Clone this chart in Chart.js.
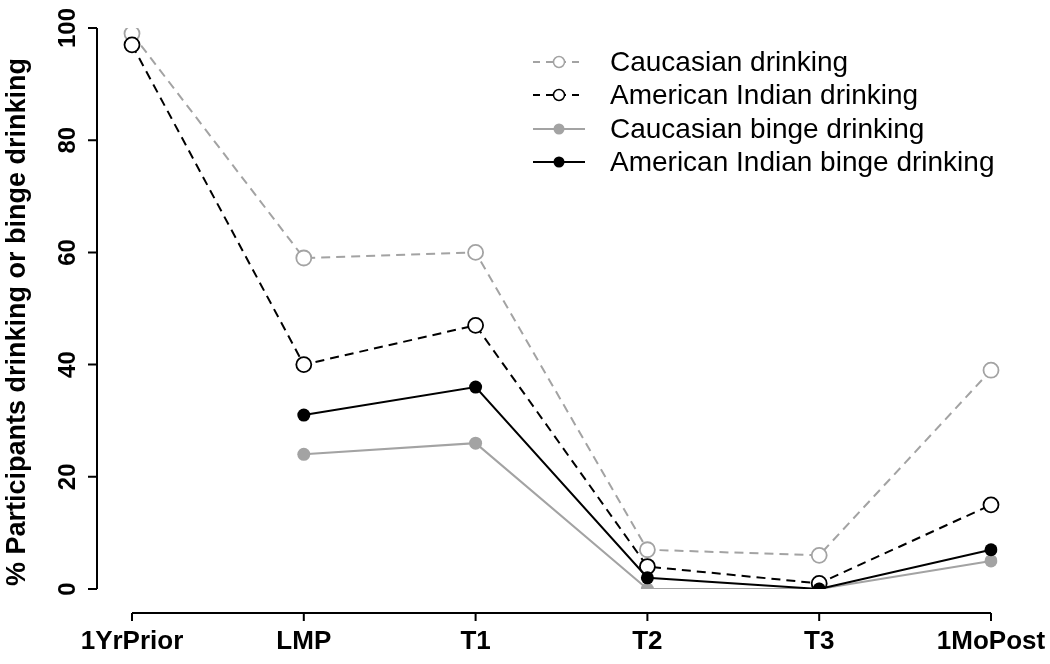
<!DOCTYPE html>
<html>
<head>
<meta charset="utf-8">
<script src="https://cdn.jsdelivr.net/npm/chart.js@4.4.1/dist/chart.umd.min.js"></script>
<style>
  html, body { margin: 0; padding: 0; background: #fff; }
  #wrap { width: 1050px; height: 664px; }
</style>
</head>
<body>
<div id="wrap"><canvas id="drinkChart"></canvas></div>
<script>
// time points
const timepoints = ['1YrPrior', 'LMP', 'T1', 'T2', 'T3', '1MoPost'];
const yTicks = [0, 20, 40, 60, 80, 100];

// % participants
const caucasianDrinking = [99, 59, 60, 7, 6, 39];
const indianDrinking = [97, 40, 47, 4, 1, 15];
const caucasianBinge = [null, 24, 26, 0, 0, 5];
const indianBinge = [null, 31, 36, 2, 0, 7];

const GREY = '#a3a3a3';
const BLACK = '#000000';

const series = [
  { label: 'Caucasian drinking', data: caucasianDrinking, color: GREY, dash: [9, 6], open: true },
  { label: 'American Indian drinking', data: indianDrinking, color: BLACK, dash: [9, 6], open: true },
  { label: 'Caucasian binge drinking', data: caucasianBinge, color: GREY, dash: [], open: false },
  { label: 'American Indian binge drinking', data: indianBinge, color: BLACK, dash: [], open: false }
];

// R-style detached axes, rotated tick labels and the legend
const rAxes = {
  id: 'rAxes',
  afterDraw(chart) {
    const ctx = chart.ctx;
    const xs = chart.scales.x, ys = chart.scales.y;
    ctx.save();
    ctx.strokeStyle = '#000';
    ctx.fillStyle = '#000';
    ctx.lineWidth = 2;

    // y axis
    const yAxisX = 97;
    ctx.beginPath();
    ctx.moveTo(yAxisX, ys.getPixelForValue(0));
    ctx.lineTo(yAxisX, ys.getPixelForValue(100));
    yTicks.forEach(t => {
      const py = ys.getPixelForValue(t);
      ctx.moveTo(yAxisX, py);
      ctx.lineTo(yAxisX - 9, py);
    });
    ctx.stroke();
    ctx.font = 'bold 24px "Liberation Sans", Arial, sans-serif';
    ctx.textAlign = 'center';
    ctx.textBaseline = 'middle';
    yTicks.forEach(t => {
      const py = ys.getPixelForValue(t);
      ctx.save();
      ctx.translate(68, py);
      ctx.rotate(-Math.PI / 2);
      ctx.fillText(String(t), 0, 0);
      ctx.restore();
    });

    // y title
    ctx.save();
    ctx.translate(18, 322);
    ctx.rotate(-Math.PI / 2);
    ctx.font = 'bold 27px "Liberation Sans", Arial, sans-serif';
    ctx.fillText('% Participants drinking or binge drinking', 0, 0);
    ctx.restore();

    // x axis
    const xAxisY = 613;
    ctx.beginPath();
    ctx.moveTo(xs.getPixelForValue(0), xAxisY);
    ctx.lineTo(xs.getPixelForValue(timepoints.length - 1), xAxisY);
    timepoints.forEach((_, i) => {
      const px = xs.getPixelForValue(i);
      ctx.moveTo(px, xAxisY);
      ctx.lineTo(px, xAxisY + 8);
    });
    ctx.stroke();
    ctx.font = 'bold 26px "Liberation Sans", Arial, sans-serif';
    timepoints.forEach((lab, i) => {
      ctx.fillText(lab, xs.getPixelForValue(i), 642);
    });

    // legend
    ctx.font = '28px "Liberation Sans", Arial, sans-serif';
    ctx.textAlign = 'left';
    const rowY = [62, 95, 129, 162];
    series.forEach((s, i) => {
      const y = rowY[i];
      ctx.strokeStyle = s.color;
      ctx.lineWidth = 2.2;
      ctx.setLineDash(s.dash.length ? [7, 6] : []);
      ctx.beginPath();
      ctx.moveTo(533, y);
      ctx.lineTo(585, y);
      ctx.stroke();
      ctx.setLineDash([]);
      ctx.beginPath();
      ctx.arc(559, y, 5.5, 0, Math.PI * 2);
      if (s.open) {
        ctx.fillStyle = '#fff';
        ctx.fill();
        ctx.lineWidth = 1.5;
        ctx.stroke();
      } else {
        ctx.fillStyle = s.color;
        ctx.fill();
      }
      ctx.fillStyle = '#000';
      ctx.fillText(s.label, 610, y + 1);
    });
    ctx.restore();
  }
};

new Chart(document.getElementById('drinkChart'), {
  type: 'line',
  data: {
    labels: timepoints,
    datasets: series.map(s => ({
      label: s.label,
      data: s.data,
      borderColor: s.color,
      borderDash: s.dash,
      borderWidth: 2,
      pointRadius: s.open ? 7.5 : 6.5,
      pointBorderWidth: s.open ? 1.8 : 0,
      pointBackgroundColor: s.open ? '#fff' : s.color,
      pointBorderColor: s.color,
      spanGaps: false,
      tension: 0
    })).reverse()
  },
  options: {
    responsive: true,
    maintainAspectRatio: false,
    animation: false,
    layout: { padding: { left: 132, right: 59, top: 28, bottom: 75 } },
    plugins: { legend: { display: false }, tooltip: { enabled: false } },
    scales: {
      x: { display: false, offset: false },
      y: { display: false, min: 0, max: 100 }
    }
  },
  plugins: [rAxes]
});
</script>
</body>
</html>
